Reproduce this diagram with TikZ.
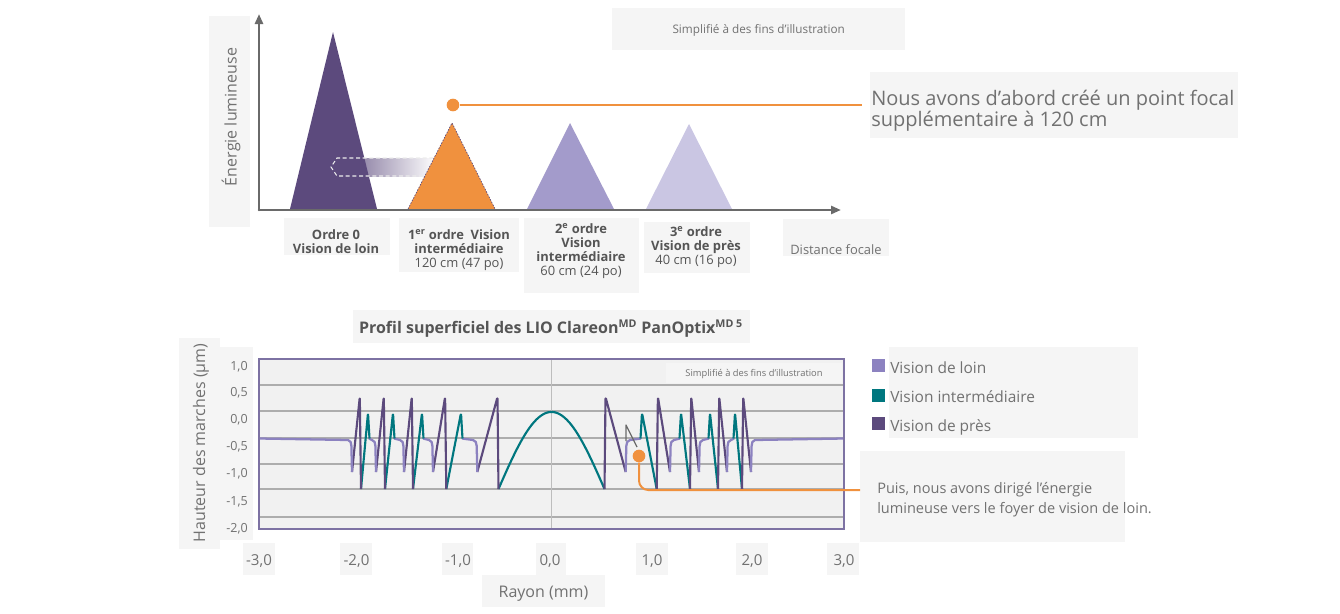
\documentclass[tikz,border=0pt]{standalone}
\usepackage{fontspec}
\setmainfont{Open Sans}
\usepackage{tikz}
\usepackage{tkz-euclide}
\usetikzlibrary{calc}
\usetikzlibrary{arrows.meta}

\definecolor{nearc}{HTML}{5C4A7D}
\definecolor{orangec}{HTML}{F0913E}
\definecolor{midc}{HTML}{A39BCB}
\definecolor{lightc}{HTML}{CAC6E3}
\definecolor{farc}{HTML}{8C82C0}
\definecolor{tealc}{HTML}{00777F}
\definecolor{boxc}{HTML}{F5F5F5}
\definecolor{plotc}{HTML}{F1F1F1}
\definecolor{textc}{HTML}{717171}
\definecolor{labc}{HTML}{555555}
\definecolor{axisc}{HTML}{6A6A6A}
\definecolor{gridc}{HTML}{ADADAD}
\definecolor{framec}{HTML}{7D72A3}

\newcommand{\halfprofile}{%
  \draw[nearline] (604.5,489) -- (605.5,397) -- (625.7,472);
  \draw[farline] (625.7,472) -- (626.3,446) to[out=85,in=180] (630,440) -- (641,438.5);
  \foreach \s/\t/\e/\n in {642/656.7/670/680,681/690/699/709,710/718/727/734,735/742/751/844}{%
    \draw[midline] (\s-1.5,438.5) -- (\s,413) -- (\t,489);
    \draw[nearline] (\t,489) -- (\t+1.2,397) -- (\e,472);
    \draw[farline] (\e,472) -- (\e+0.6,446) to[out=85,in=180] (\e+4,440) -- (\n,438.5);
  }%
}

\begin{document}
\begin{tikzpicture}[x=0.75pt,y=-0.75pt,
    >={Triangle[length=7.5pt,width=6pt]},
    bg/.style={fill=boxc},
    axisline/.style={draw=axisc,line width=1.9pt},
    gridline/.style={draw=gridc,line width=0.8pt},
    farline/.style={draw=farc,line width=1.7pt,line join=round},
    midline/.style={draw=tealc,line width=1.6pt,line join=round,rounded corners=1.2pt},
    nearline/.style={draw=nearc,line width=1.6pt,line join=round,rounded corners=1.2pt},
    orangeline/.style={draw=orangec,line width=1.5pt},
    focdot/.style={circle,fill=orangec,inner sep=0pt,minimum size=9.5pt},
    lab/.style={text=labc,font=\fontsize{9.7pt}{10.6pt}\selectfont,align=center,inner sep=0pt},
    notetext/.style={text=textc,inner sep=0pt},
    xtick/.style={text=textc,font=\fontsize{11.3pt}{13pt}\selectfont,inner sep=0pt,anchor=base},
    ytick/.style={text=textc,font=\fontsize{9.4pt}{11pt}\selectfont,inner sep=0pt,anchor=base east},
    legendkey/.style={minimum size=9.75pt,inner sep=0pt},
    legendtext/.style={text=textc,font=\fontsize{11.6pt}{13pt}\selectfont,inner sep=0pt,anchor=base west}
  ]
\useasboundingbox (0,0) rectangle (1340,614);

\fill[bg] (209,16) rectangle (250,227);
\fill[bg] (612,8) rectangle (905,50);
\fill[bg] (870,72) rectangle (1238,138);
\fill[bg] (284,218) rectangle (390,255);
\fill[bg] (399,218) rectangle (519,272);
\fill[bg] (524,218) rectangle (639,293);
\fill[bg] (644,222) rectangle (750,273);
\fill[bg] (783,219) rectangle (889,256);

\shade[left color=nearc!80,right color=white] (345,158) rectangle (436,176);
\fill[nearc] (290,209) -- (333,32) -- (377,209) -- cycle;
\draw[white!85!gray,dash pattern=on 3pt off 2pt,line width=0.8pt] (440,158) -- (337,158) -- (331,167) -- (337,176) -- (440,176);
\fill[orangec] (408,209) -- (452,123) -- (495,209) -- cycle;
\draw[nearc,dash pattern=on 1.2pt off 1pt,line width=0.5pt] (408,209) -- (452,123) -- (495,209);
\fill[midc] (527,209) -- (570,123) -- (614,209) -- cycle;
\fill[lightc] (646,209) -- (689,124) -- (732,209) -- cycle;

\tkzDefPoint(259,210){O}
\tkzDefPoint(841,210){X}
\tkzDefPoint(259,14){Y}
\tkzDrawSegment[->,axisline](O,X)
\tkzDrawSegment[->,axisline](O,Y)

\node[notetext,rotate=90,font=\fontsize{12pt}{14pt}\selectfont] (energie) at (231,117) {Énergie lumineuse};
\node[notetext,anchor=base,font=\fontsize{8.8pt}{10pt}\selectfont] (simplA) at (758.7,33.3) {Simplifié à des fins d’illustration};
\node[notetext,anchor=west,align=left,font=\fontsize{15pt}{15.75pt}\selectfont] (nous) at (871,111) {Nous avons d’abord créé un point focal\\supplémentaire à 120 cm};

\node[lab,font=\fontsize{9.7pt}{10.6pt}\selectfont\bfseries] (ordre0) at (336,241.5) {Ordre 0\\Vision de loin};
\node[lab] (ordre1) at (459,250) {\textbf{1\textsuperscript{er} ordre~ Vision}\\\textbf{intermédiaire}\\120 cm (47 po)};
\node[lab] (ordre2) at (581,251) {\textbf{2\textsuperscript{e} ordre}\\\textbf{Vision}\\\textbf{intermédiaire}\\60 cm (24 po)};
\node[lab] (ordre3) at (696,247) {\textbf{3\textsuperscript{e} ordre}\\\textbf{Vision de près}\\40 cm (16 po)};
\node[notetext,anchor=base,font=\fontsize{9.7pt}{11pt}\selectfont] (dist) at (836,254.3) {Distance focale};

\node[focdot] (focA) at (453,105) {};
\draw[orangeline,shorten >=6.5pt] (focA) -- (focA -| nous.west);

\fill[bg] (353,310) rectangle (750,343);
\fill[bg] (179,338) rectangle (220,549);
\fill[bg] (220,347) rectangle (253,540);
\foreach \a/\b in {243/275,340/372,442/473,536/566,636/668,736/768,827/859}
  \fill[bg] (\a,543) rectangle (\b,575);
\fill[bg] (482,575) rectangle (605,607);
\fill[bg] (889,347) rectangle (1138,438);
\fill[bg] (860,451) rectangle (1125,542);

\node[anchor=base,text=labc,inner sep=0pt,font=\fontsize{12pt}{14pt}\selectfont\bfseries] (titre) at (551,333.3) {Profil superficiel des LIO Clareon\textsuperscript{MD} PanOptix\textsuperscript{MD 5}};

\fill[plotc] (259,359) rectangle (844,529);
\foreach \g in {385,411,438,464,489,517}
  \draw[gridline] (259,\g) -- (844,\g);
\draw[draw=gridc!80,line width=1pt] (551.5,359) -- (551.5,529);
\fill[bg] (666,363) rectangle (842,383);
\node[notetext,anchor=base,font=\fontsize{7pt}{8pt}\selectfont] (simplB) at (754,376) {Simplifié à des fins d’illustration};

\draw[midline] plot[domain=-53:53,samples=61,smooth] ({551.5+\x},{489-77*cos(90*\x/53)});
\halfprofile
\begin{scope}[shift={(1103,0)},xscale=-1]
\halfprofile
\end{scope}
\draw[framec,line width=1.1pt] (259,359) rectangle (844,529);

\draw[axisc,line width=0.9pt,line join=round] (626,441) -- (626,425) -- (637,447);
\node[focdot] (focB) at (639,456) {};
\coordinate (puisin) at (860,490);
\draw[orangeline,rounded corners=7pt] (focB) |- (puisin);

\node[ytick] (y10) at (248,370) {1,0};
\node[ytick] (y05) at (248,396.7) {0,5};
\node[ytick] (y00) at (248,423.3) {0,0};
\node[ytick] (ym05) at (248,450.7) {-0,5};
\node[ytick] (ym10) at (248,477.7) {-1,0};
\node[ytick] (ym15) at (248,505) {-1,5};
\node[ytick] (ym20) at (248,532.3) {-2,0};
\node[notetext,rotate=90,font=\fontsize{12pt}{14pt}\selectfont] (hauteur) at (201,443) {Hauteur des marches (µm)};

\node[xtick] (xm30) at (259,565) {-3,0};
\node[xtick] (xm20) at (356.5,565) {-2,0};
\node[xtick] (xm10) at (458,565) {-1,0};
\node[xtick] (x00) at (550,565) {0,0};
\node[xtick] (x10) at (652,565) {1,0};
\node[xtick] (x20) at (752,565) {2,0};
\node[xtick] (x30) at (844,565) {3,0};
\node[notetext,anchor=base,font=\fontsize{12pt}{14pt}\selectfont] (rayon) at (543.5,597.7) {Rayon (mm)};

\node[legendkey,fill=farc] (kfar) at (878.5,365.3) {};
\node[legendkey,fill=tealc] (kmid) at (878.5,395.3) {};
\node[legendkey,fill=nearc] (knear) at (878.5,423.3) {};
\node[legendtext] (tfar) at (890,373.3) {Vision de loin};
\node[legendtext] (tmid) at (890,402.7) {Vision intermédiaire};
\node[legendtext] (tnear) at (890,431) {Vision de près};

\node[notetext,anchor=west,align=left,font=\fontsize{10.9pt}{15pt}\selectfont] (puis) at (877,499.6) {Puis, nous avons dirigé l'énergie\\lumineuse vers le foyer de vision de loin.};
\end{tikzpicture}
\end{document}
